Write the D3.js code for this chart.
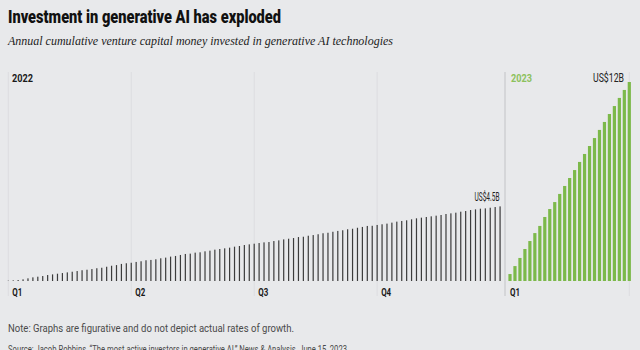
<!DOCTYPE html>
<html><head><meta charset="utf-8">
<script src="https://cdn.jsdelivr.net/npm/d3@7/dist/d3.min.js"></script>
<style>
html,body{margin:0;padding:0;background:#e8e9eb;}
svg{display:block;}
</style></head>
<body>
<svg id="c" width="640" height="350"></svg>
<script>
// Cumulative investment, US$ billions (figurative)
const values2022 = [
  0.02,0.04,0.06,0.10,0.16,0.22,0.26,0.30,0.36,0.40,0.44,0.48,0.52,0.56,0.60,0.65,0.68,0.72,0.77,0.80,0.86,0.92,0.96,1.03,1.07,
  1.10,1.15,1.19,1.25,1.27,1.31,1.37,1.41,1.47,1.51,1.57,1.63,1.65,1.71,1.73,1.79,1.83,1.89,1.93,1.97,2.01,2.07,2.11,2.17,2.21,
  2.25,2.29,2.33,2.35,2.41,2.45,2.51,2.55,2.59,2.65,2.67,2.73,2.77,2.82,2.88,2.91,2.97,3.02,3.06,3.12,3.15,3.21,3.26,3.32,3.33,
  3.38,3.42,3.46,3.52,3.58,3.62,3.66,3.72,3.78,3.82,3.86,3.90,3.94,3.98,4.04,4.08,4.12,4.18,4.22,4.28,4.32,4.36,4.38,4.42,4.46,4.50
];
const values2023 = [0.42,0.90,1.39,1.93,2.41,2.89,3.32,3.86,4.34,4.76,5.25,5.73,6.21,6.69,7.18,7.66,8.14,8.62,9.11,9.59,10.07,10.55,11.04,11.52,12.0];
const quarterLabels2022 = ["Q1","Q2","Q3","Q4"];
const quarterStarts2022 = [0,25,50,75];
const quarterLabels2023 = ["Q1"];
const yearLabels = ["2022","2023"];
const endLabels = ["US$4.5B","US$12B"];

const svg = d3.select("#c");
const baseY = 281, topY = 82, gridTop = 72, gridBottom = 296;

const y = d3.scaleLinear().domain([0, 12]).range([baseY, topY]);
const x22 = d3.scalePoint().domain(d3.range(values2022.length + 1)).range([8.3, 505]);
const x23 = d3.scalePoint().domain(d3.range(values2023.length)).range([510, 629.3]);

const condensed = "'Roboto', 'Liberation Sans', sans-serif";

// Title
svg.append("text").attr("x", 8).attr("y", 23)
  .attr("font-family", "'Roboto', 'Liberation Sans', sans-serif")
  .attr("font-weight", 900).attr("font-size", 17.5).attr("fill", "#111")
  .attr("textLength", 273).attr("lengthAdjust", "spacingAndGlyphs")
  .text("Investment in generative AI has exploded");
svg.append("text").attr("x", 8).attr("y", 45)
  .attr("font-family", "'Liberation Serif', 'DejaVu Serif', serif")
  .attr("font-style", "italic").attr("font-size", 12.5).attr("fill", "#222")
  .attr("textLength", 385).attr("lengthAdjust", "spacingAndGlyphs")
  .text("Annual cumulative venture capital money invested in generative AI technologies");

// Grid lines (quarter boundaries)
const gridXs = quarterStarts2022.map(i => x22(i));
svg.append("g").selectAll("line").data(gridXs).join("line")
  .attr("x1", d => d).attr("x2", d => d).attr("y1", gridTop).attr("y2", gridBottom)
  .attr("stroke", "#dcdde0").attr("stroke-width", 1);
svg.append("line").attr("x1", x22(values2022.length)).attr("x2", x22(values2022.length))
  .attr("y1", gridTop).attr("y2", gridBottom).attr("stroke", "#c2c3c6").attr("stroke-width", 1);
svg.append("line").attr("x1", x23(values2023.length - 1)).attr("x2", x23(values2023.length - 1))
  .attr("y1", gridTop).attr("y2", gridBottom).attr("stroke", "#dcdde0").attr("stroke-width", 1);

// 2022 bars
svg.append("g").selectAll("rect").data(values2022).join("rect")
  .attr("x", (d, i) => x22(i) - 0.6).attr("width", 1.2)
  .attr("y", d => y(d)).attr("height", d => baseY - y(d))
  .attr("fill", "#3c3c3c");

// 2023 bars
svg.append("g").selectAll("rect").data(values2023).join("rect")
  .attr("x", (d, i) => x23(i) - 1.6).attr("width", 3.2)
  .attr("y", d => y(d)).attr("height", d => baseY - y(d))
  .attr("fill", "#7cb94a");

// Year labels
svg.append("text").attr("x", 12).attr("y", 82)
  .attr("font-family", condensed).attr("font-weight", 700).attr("font-size", 11.5)
  .attr("fill", "#1a1a1a").attr("textLength", 21).attr("lengthAdjust", "spacingAndGlyphs")
  .text(yearLabels[0]);
svg.append("text").attr("x", 511).attr("y", 82)
  .attr("font-family", condensed).attr("font-weight", 700).attr("font-size", 11.5)
  .attr("fill", "#8cc15c").attr("textLength", 21).attr("lengthAdjust", "spacingAndGlyphs")
  .text(yearLabels[1]);

// End labels
svg.append("text").attr("x", 499.5).attr("y", 201).attr("text-anchor", "end")
  .attr("font-family", condensed).attr("font-size", 12).attr("fill", "#222")
  .attr("textLength", 25).attr("lengthAdjust", "spacingAndGlyphs")
  .text(endLabels[0]);
svg.append("text").attr("x", 624).attr("y", 82).attr("text-anchor", "end")
  .attr("font-family", condensed).attr("font-size", 12).attr("fill", "#222")
  .attr("textLength", 31).attr("lengthAdjust", "spacingAndGlyphs")
  .text(endLabels[1]);

// Quarter labels
svg.append("g").selectAll("text").data(quarterLabels2022).join("text")
  .attr("x", (d, i) => x22(quarterStarts2022[i]) + 4).attr("y", 296)
  .attr("font-family", condensed).attr("font-weight", 700).attr("font-size", 11.5)
  .attr("fill", "#1a1a1a").attr("textLength", 10).attr("lengthAdjust", "spacingAndGlyphs")
  .text(d => d);
svg.append("g").selectAll("text").data(quarterLabels2023).join("text")
  .attr("x", x23(0)).attr("y", 296)
  .attr("font-family", condensed).attr("font-weight", 700).attr("font-size", 11.5)
  .attr("fill", "#1a1a1a").attr("textLength", 10).attr("lengthAdjust", "spacingAndGlyphs")
  .text(d => d);

// Notes
svg.append("text").attr("x", 8).attr("y", 332)
  .attr("font-family", condensed).attr("font-size", 11).attr("fill", "#4a4a4a")
  .attr("textLength", 286).attr("lengthAdjust", "spacingAndGlyphs")
  .text("Note: Graphs are figurative and do not depict actual rates of growth.");
svg.append("text").attr("x", 8).attr("y", 352.5)
  .attr("font-family", condensed).attr("font-size", 11).attr("fill", "#4a4a4a")
  .attr("textLength", 339).attr("lengthAdjust", "spacingAndGlyphs")
  .text("Source: Jacob Robbins, \u201cThe most active investors in generative AI,\u201d News & Analysis, June 15, 2023");
</script>
</body></html>
